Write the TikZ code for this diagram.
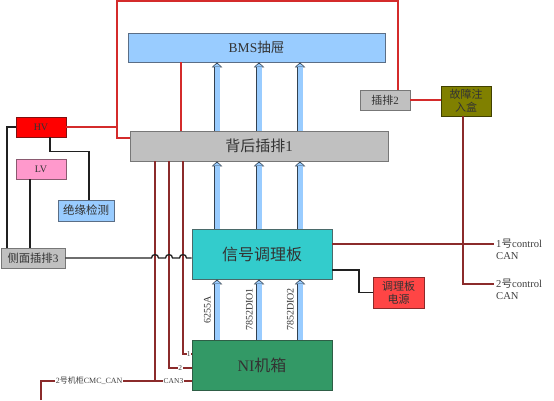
\documentclass[tikz,border=0pt]{standalone}
\usepackage{fontspec}
\setmainfont{Liberation Serif}
\newfontfamily\cjk{Noto Sans CJK SC}
\usetikzlibrary{arrows.meta}
\newcommand{\zh}[1]{{\cjk #1}}
\newcommand{\fs}[2]{\fontsize{#1}{#2}\selectfont}
\definecolor{bmsblue}{HTML}{99CCFF}
\definecolor{bmsedge}{HTML}{5B6E86}
\definecolor{plug}{HTML}{C0C0C0}
\definecolor{plugedge}{HTML}{777777}
\definecolor{sigcyan}{HTML}{33CCCC}
\definecolor{sigedge}{HTML}{4A6A6A}
\definecolor{nigreen}{HTML}{339966}
\definecolor{niedge}{HTML}{2E5E46}
\definecolor{olive}{HTML}{808000}
\definecolor{oliveedge}{HTML}{404000}
\definecolor{hvred}{HTML}{FF0000}
\definecolor{hvedge}{HTML}{7F1010}
\definecolor{lvpink}{HTML}{FF99CC}
\definecolor{lvedge}{HTML}{8A5A70}
\definecolor{psured}{HTML}{FF4545}
\definecolor{psuedge}{HTML}{8B2A2A}
\definecolor{redwire}{HTML}{D42B2B}
\definecolor{darkwire}{HTML}{8B2B2B}
\definecolor{blackwire}{HTML}{202020}
\definecolor{busedge}{HTML}{33414F}

\begin{document}
\begin{tikzpicture}[x=1pt,y=-1pt]
            \tikzstyle{box}=[draw, line width=0.9pt, inner sep=0pt, align=center, text=black!80]
            \tikzstyle{bus}=[draw=bmsblue, line width=5pt, -{Triangle[length=3pt,width=7.5pt,line width=0pt]}, shorten >=1.2pt,
                preaction={draw=busedge, line width=6.8pt, -{Triangle[length=4.8pt,width=10.5pt,line width=0pt]}, shorten >=0pt}]
            \tikzstyle{red line}=[draw=redwire, line width=1.4pt]
            \tikzstyle{dark line}=[draw=darkwire, line width=1.3pt]
            \tikzstyle{black line}=[draw=blackwire, line width=1.3pt]
            \tikzstyle{tag}=[fill=white, inner sep=0.6pt, text=black!75, font=\fs{7.5}{8}]
            \tikzstyle{card}=[rotate=90, anchor=south, inner xsep=0pt, inner ysep=3.8pt, text=black!80, font=\fs{10}{10}]
            \tikzstyle{ctl}=[align=left, inner sep=2pt, text=black!75, font=\fs{10.6}{12}]
            \useasboundingbox (0,0) rectangle (554,400);
            % boxes
            \node[box, fill=bmsblue, draw=bmsedge, minimum width=257pt, minimum height=29pt, font=\fs{13.5}{13.5}] (bms) at (256.5,47.5) {BMS\zh{抽屉}};
            \node[box, fill=plug, draw=plugedge, minimum width=258pt, minimum height=30pt, font=\fs{15}{15}] (back) at (259,146) {\zh{背后插排}1};
            \node[box, fill=plug, draw=plugedge, minimum width=50pt, minimum height=20pt, font=\fs{11}{11}] (cp2) at (385,100) {\zh{插排}2};
            \node[box, fill=olive, draw=oliveedge, minimum width=50pt, minimum height=30pt, font=\fs{11}{12.5}] (fault) at (466,101) {\zh{故障注}\\\zh{入盒}};
            \node[box, fill=hvred, draw=hvedge, minimum width=50pt, minimum height=20pt, font=\fs{10}{10}] (hv) at (41,127) {HV};
            \node[box, fill=lvpink, draw=lvedge, minimum width=50pt, minimum height=20pt, font=\fs{10}{10}] (lv) at (41,169) {LV};
            \node[box, fill=bmsblue, draw=bmsedge, minimum width=56pt, minimum height=21pt, font=\fs{11.5}{11.5}] (iso) at (86,210.5) {\zh{绝缘检测}};
            \node[box, fill=plug, draw=plugedge, minimum width=64pt, minimum height=20pt, font=\fs{11.3}{11.3}] (side) at (33,258) {\zh{侧面插排}3};
            \node[box, fill=sigcyan, draw=sigedge, minimum width=140pt, minimum height=50pt, font=\fs{16}{16}] (sig) at (262,254) {\zh{信号调理板}};
            \node[box, fill=psured, draw=psuedge, minimum width=51pt, minimum height=31pt, font=\fs{11}{13}] (psu) at (398.5,292.5) {\zh{调理板}\\\zh{电源}};
            \node[box, fill=nigreen, draw=niedge, minimum width=140pt, minimum height=50pt, font=\fs{16}{16}] (ni) at (262,365) {NI\zh{机箱}};
            \node[ctl, anchor=west] (ctl1) at (494,249) {1\zh{号}control\\CAN};
            \node[ctl, anchor=west] (ctl2) at (494,289) {2\zh{号}control\\CAN};
            % helper points
            \coordinate (top) at (117,1);
            \coordinate (bmsin) at (181,0);
            \coordinate (bend) at (359,0);
            \coordinate (can) at (41,381);
            \coordinate (canend) at (41,400);
            \foreach \n/\x in {c1/217,c2/259,c3/300} \coordinate (\n) at (\x,0);
            \foreach \n/\x in {v1/155,v2/169,v3/183} \coordinate (\n) at (\x,258);
            \coordinate (sigout) at ([yshift=10pt]sig.east);
            \coordinate (lvout) at ([xshift=-11pt]lv.south);
            % red wiring
            \draw[red line] ([xshift=13pt]cp2.north) |- (top) |- ([yshift=8pt]back.west);
            \draw[red line] (hv.east) -- (hv.east -| top);
            \draw[red line] (cp2.east) -- (fault.west |- cp2.east);
            \draw[red line] (bms.south -| bmsin) -- (back.north -| bmsin);
            % buses
            \foreach \c in {c1,c2,c3} {
                \draw[bus] (back.north -| \c) -- (bms.south -| \c);
                \draw[bus] (sig.north -| \c) -- (back.south -| \c);
            }
            \draw[bus] (ni.north -| c1) -- node[card] {6255A} (sig.south -| c1);
            \draw[bus] (ni.north -| c2) -- node[card] {7852DIO1} (sig.south -| c2);
            \draw[bus] (ni.north -| c3) -- node[card] {7852DIO2} (sig.south -| c3);
            % CAN lines
            \draw[dark line] (back.south -| v3) |- ([yshift=11pt]ni.west) node[tag, left, inner sep=0.3pt] {1};
            \draw[dark line] (back.south -| v2) |- node[tag, pos=0.75] {2} ([yshift=-3pt]ni.west);
            \draw[dark line] (back.south -| v1) -- (v1 |- can);
            \draw[dark line] (canend) -- (can) -- node[tag, pos=0.32, font=\fs{8}{8}] {2\zh{号机柜}CMC\_CAN} node[tag, pos=0.88] {CAN3} ([yshift=-16pt]ni.west);
            \draw[dark line] (sigout) -- ([yshift=5pt]ctl1.west);
            \draw[dark line] ([xshift=-3pt]fault.south) |- ([yshift=5pt]ctl2.west);
            % black wiring
            \draw[black line] (side.east) \foreach \v in {v1,v2,v3} { -- ([xshift=-3.5pt]\v) arc[start angle=180, end angle=0, radius=3.5pt] } -- (sig.west |- side.east);
            \draw[black line] ([yshift=-16pt]sig.east) -| (bend |- psu.west) -- (psu.west);
            \draw[black line] (hv.west) -| ([xshift=-26pt]side.north);
            \draw[black line] ([xshift=9pt]hv.south) -- ++(0,14) -| ([xshift=3pt]iso.north);
            \draw[black line] (lvout) -- (lvout |- side.north);
\end{tikzpicture}
\end{document}
